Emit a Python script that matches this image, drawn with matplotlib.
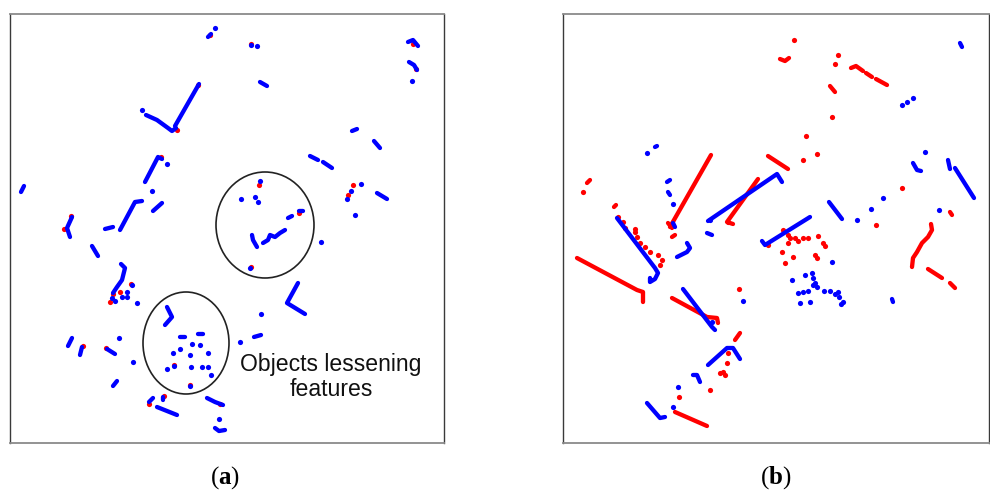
import matplotlib
matplotlib.use("Agg")
import matplotlib.pyplot as plt
from matplotlib.patches import Ellipse

plt.rcParams["mathtext.fontset"] = "custom"
plt.rcParams["mathtext.rm"] = "Liberation Serif"
plt.rcParams["mathtext.bf"] = "Liberation Serif:bold"

# ---------------- panel (a): scan points after feature lessening ----------------
a_blue_tracks = [
    [(208, 37), (211, 34)],
    [(260, 82), (267, 86)],
    [(408, 42), (413, 40), (418, 46)],
    [(409, 62), (414, 65), (417, 70)],
    [(146, 115), (157, 120), (168, 128), (172, 131), (176, 128)],
    [(175, 126), (199, 84)],
    [(145, 182), (158, 157), (162, 159)],
    [(153, 211), (162, 203)],
    [(21, 192), (24, 186)],
    [(120, 230), (135, 202), (142, 201)],
    [(105, 229), (113, 227)],
    [(72, 217), (67, 228), (70, 237)],
    [(92, 246), (98, 256)],
    [(121, 264), (125, 268), (122, 280), (117, 287), (113, 293)],
    [(72, 338), (68, 346)],
    [(82, 347), (80, 355)],
    [(107, 349), (115, 354)],
    [(117, 381), (113, 386)],
    [(157, 407), (177, 415)],
    [(149, 402), (153, 398)],
    [(163, 397), (163, 400)],
    [(207, 398), (215, 402), (223, 405)],
    [(215, 428), (219, 431), (225, 430)],
    [(167, 307), (172, 317), (165, 325)],
    [(180, 337), (185, 337)],
    [(198, 334), (203, 334)],
    [(252, 235), (253, 240), (257, 247)],
    [(263, 243), (268, 240), (270, 235), (275, 237), (280, 233), (285, 230)],
    [(298, 283), (287, 303), (305, 314)],
    [(254, 337), (261, 335)],
    [(352, 131), (357, 129)],
    [(374, 141), (380, 148)],
    [(310, 156), (318, 160)],
    [(323, 162), (332, 168)],
    [(377, 193), (387, 199)],
    [(288, 218), (292, 216)],
    [(299, 211), (303, 211)],
]
a_blue_dots = [
    (215, 28), (251, 45), (257, 46), (412, 81), (142, 110), (167, 164), (152, 191),
    (132, 285), (127, 292), (122, 297), (127, 297), (115, 301), (112, 298), (137, 303),
    (119, 338), (133, 362), (219, 419), (192, 344), (200, 345), (180, 349), (173, 353),
    (190, 355), (208, 353), (167, 369), (174, 366), (191, 367), (202, 367), (208, 367),
    (211, 375), (190, 386), (260, 181), (241, 199), (255, 197), (258, 202), (250, 268),
    (321, 242), (261, 314), (240, 342), (361, 184), (351, 191), (347, 199), (355, 215),
]
a_red_dots = [
    (210, 35), (251, 44), (259, 185), (64, 229), (120, 292), (110, 302), (353, 185),
    (348, 195), (131, 284), (198, 85), (177, 130), (161, 157), (71, 216), (83, 346),
    (106, 348), (164, 396), (220, 404), (149, 404), (299, 213), (413, 44), (416, 69),
    (113, 294), (190, 385), (174, 365), (251, 267),
]
a_ellipses = [((186, 343), 86, 102), ((265, 225), 98, 106)]
a_note = "Objects lessening\nfeatures"

# ---------------- panel (b): scan points with full features ----------------
b_blue_tracks = [
    [(655, 147), (657, 146)],
    [(667, 182), (670, 180)],
    [(668, 192), (670, 195)],
    [(708, 221), (777, 174), (782, 182)],
    [(960, 43), (962, 47)],
    [(913, 163), (917, 170), (921, 171)],
    [(948, 160), (950, 169)],
    [(955, 168), (974, 198)],
    [(829, 202), (842, 219)],
    [(762, 241), (765, 245), (810, 217)],
    [(617, 218), (655, 268), (658, 273), (655, 279), (650, 282), (650, 278)],
    [(673, 223), (675, 227)],
    [(707, 233), (712, 235)],
    [(687, 243), (690, 248), (687, 252), (677, 257)],
    [(683, 289), (712, 327), (715, 330)],
    [(708, 365), (727, 348), (733, 348), (740, 359)],
    [(693, 375), (697, 375), (700, 382)],
    [(647, 403), (660, 418), (665, 417)],
    [(892, 299), (893, 302)],
]
b_blue_dots = [
    (647, 153), (673, 204), (925, 152), (883, 198), (871, 209), (857, 220), (939, 210),
    (743, 301), (678, 387), (673, 407), (710, 220), (832, 262), (805, 275), (812, 273),
    (813, 278), (815, 283), (817, 287), (813, 285), (792, 280), (798, 293), (803, 292),
    (808, 291), (824, 291), (830, 291), (835, 294), (838, 292), (839, 297), (843, 302),
    (841, 304), (800, 303), (810, 302), (902, 105), (907, 102), (913, 98), (712, 322),
]
b_red_tracks = [
    [(587, 183), (590, 180)],
    [(614, 207), (616, 205)],
    [(670, 227), (711, 155)],
    [(733, 224), (727, 222), (758, 179)],
    [(768, 156), (788, 169)],
    [(780, 59), (785, 61), (789, 58)],
    [(851, 68), (856, 66), (863, 71)],
    [(866, 73), (872, 77)],
    [(876, 79), (887, 85)],
    [(830, 86), (835, 92)],
    [(577, 258), (637, 290), (643, 292), (643, 302)],
    [(672, 298), (707, 317), (717, 318), (718, 323)],
    [(735, 340), (740, 333)],
    [(675, 412), (707, 426)],
    [(931, 224), (932, 230), (928, 237), (922, 243), (917, 252), (913, 258), (912, 267)],
    [(928, 269), (942, 278)],
    [(950, 283), (955, 288)],
    [(668, 223), (672, 228)],
    [(672, 237), (675, 235)],
    [(950, 212), (952, 215)],
]
b_red_dots = [
    (583, 192), (794, 40), (838, 55), (835, 64), (832, 117), (806, 136), (803, 160),
    (817, 154), (902, 188), (876, 225), (618, 217), (623, 222), (635, 229), (635, 232),
    (637, 237), (640, 243), (645, 247), (650, 252), (658, 255), (662, 260), (660, 265),
    (625, 228), (728, 222), (739, 289), (728, 353), (727, 363), (720, 373), (723, 372),
    (725, 375), (710, 390), (679, 397), (783, 230), (788, 235), (790, 238), (795, 238),
    (798, 241), (803, 238), (808, 238), (818, 236), (788, 243), (823, 243), (825, 246),
    (782, 252), (793, 257), (815, 255), (817, 258), (785, 263), (768, 245),
]

panel_labels = ["a", "b"]

BLUE = "#0000ff"
RED = "#ff0000"
TRACK_LW = 3.1
DOT_SIZE = 14


def draw_tracks(ax, tracks, color, z):
    for tr in tracks:
        xs = [p[0] for p in tr]
        ys = [p[1] for p in tr]
        if len(tr) == 1:
            ax.scatter(xs, ys, s=DOT_SIZE, color=color, lw=0, zorder=z)
        else:
            ax.plot(xs, ys, color=color, lw=TRACK_LW, solid_capstyle="round",
                    solid_joinstyle="round", zorder=z)


def draw_dots(ax, dots, color, z):
    ax.scatter([p[0] for p in dots], [p[1] for p in dots], s=DOT_SIZE,
               color=color, lw=0, zorder=z)


def style_box(ax, xlim, ylim):
    ax.set_xlim(*xlim)
    ax.set_ylim(*ylim)
    ax.set_xticks([])
    ax.set_yticks([])
    for side in ("top", "bottom"):
        ax.spines[side].set_color("#8a8a8a")
        ax.spines[side].set_linewidth(1.3)
    for side in ("left", "right"):
        ax.spines[side].set_color("#3a3a3a")
        ax.spines[side].set_linewidth(1.0)


W, H = 990, 494
fig = plt.figure(figsize=(W / 100, H / 100), dpi=100)

# panel (a)
ax_a = fig.add_axes([10 / W, 1 - 443 / H, (444 - 10) / W, (443 - 14) / H])
style_box(ax_a, (10, 444), (443, 14))
draw_dots(ax_a, a_red_dots, RED, 2)
draw_tracks(ax_a, a_blue_tracks, BLUE, 3)
draw_dots(ax_a, a_blue_dots, BLUE, 3)
for (cx, cy), ew, eh in a_ellipses:
    ax_a.add_patch(Ellipse((cx, cy), ew, eh, fill=False, ec="#222222", lw=1.2, zorder=4))
ax_a.text(331, 377, a_note, ha="center", va="center", fontsize=16.6,
          family="Liberation Sans", color="#111111", linespacing=1.15, zorder=5)

# panel (b)
ax_b = fig.add_axes([562.5 / W, 1 - 443 / H, (989 - 562.5) / W, (443 - 14) / H])
style_box(ax_b, (562.5, 989), (443, 14))
draw_tracks(ax_b, b_red_tracks, RED, 2)
draw_dots(ax_b, b_red_dots, RED, 2)
draw_tracks(ax_b, b_blue_tracks, BLUE, 3)
draw_dots(ax_b, b_blue_dots, BLUE, 3)

# sub-figure labels
for lab, xc in zip(panel_labels, (225, 776)):
    fig.text(xc / W, 1 - 478 / H, r"($\mathbf{%s}$)" % lab, ha="center", va="center",
             fontsize=18, family="Liberation Serif", color="black")

fig.savefig("out.png", dpi=100, facecolor="white")
